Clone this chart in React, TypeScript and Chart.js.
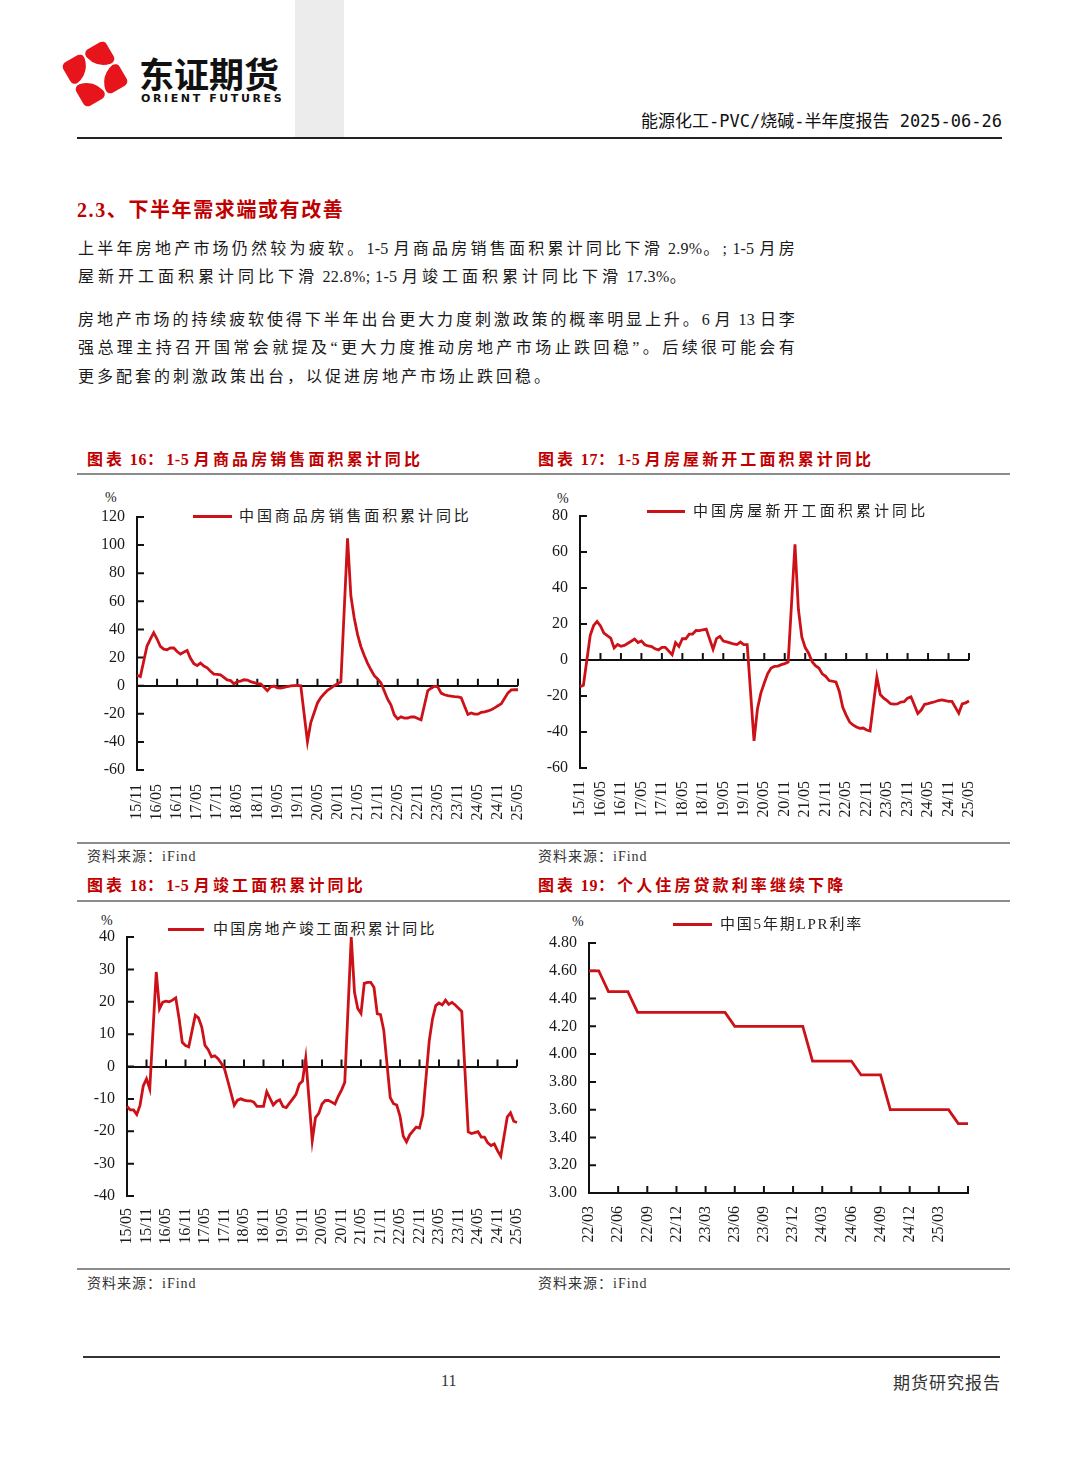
import React, { useEffect, useRef } from 'react';
import { Chart, registerables } from 'chart.js';

Chart.register(...registerables);

const LINE_RED = '#cc1218';
const TEXT_RED = '#c00000';
const TICK_FONT = '"Liberation Serif", "Times New Roman", serif';
const SERIF_CJK = '"Liberation Serif", "Noto Sans CJK SC", serif';
const SANS_CJK = '"Noto Sans CJK SC", sans-serif';

// ---------- Chart 16: 商品房销售面积累计同比 (monthly from 15/11, January has no release) ----------
const salesStart = '15/11';
const salesValues: (number | null)[] = [
  7.4, 6.5,
  null, 28.2, 33.1, 37.7, 33.2, 27.9, 26.0, 25.5, 26.9, 26.8, 24.3, 22.5,
  null, 25.1, 19.5, 15.7, 14.3, 16.1, 14.0, 12.7, 10.3, 8.2, 8.0, 7.7,
  null, 4.1, 3.6, 1.3, 2.9, 3.3, 4.2, 4.0, 2.9, 2.2, 1.4, 1.3,
  null, -3.6, -0.9, -0.3, -1.6, -1.8, -1.3, -0.6, -0.1, 0.1, 0.2, -0.1,
  null, -39.9, -26.3, -19.3, -12.3, -8.4, -5.8, -3.3, -1.8, 0.0, 1.3, 2.6,
  null, 104.9, 63.8, 48.1, 36.3, 27.7, 21.5, 15.9, 11.3, 7.1, 4.8, 1.9,
  null, -9.6, -13.8, -20.9, -23.6, -22.2, -23.1, -23.0, -22.2, -22.3, -23.3, -24.3,
  null, -3.6, -1.8, -0.4, -0.9, -5.3, -6.5, -7.1, -7.5, -7.8, -8.0, -8.5,
  null, -20.5, -19.4, -20.2, -20.3, -19.0, -18.6, -18.0, -17.1, -15.8, -14.3, -12.9,
  null, -5.1, -3.0, -2.8, -2.9,
];
const salesTicks = ['15/11', '16/05', '16/11', '17/05', '17/11', '18/05', '18/11', '19/05', '19/11', '20/05',
  '20/11', '21/05', '21/11', '22/05', '22/11', '23/05', '23/11', '24/05', '24/11', '25/05'];

// ---------- Chart 17: 房屋新开工面积累计同比 ----------
const startsStart = '15/11';
const startsValues: (number | null)[] = [
  -14.8, -14.0,
  null, 13.7, 19.2, 21.4, 18.9, 14.9, 13.5, 12.2, 6.7, 8.6, 7.6, 8.1,
  null, 10.4, 11.6, 9.7, 10.6, 8.5, 7.8, 7.5, 6.2, 5.6, 7.0, 7.0,
  null, 2.9, 9.7, 7.5, 11.8, 11.8, 14.4, 14.4, 16.4, 16.3, 16.8, 17.2,
  null, 6.0, 11.9, 13.1, 10.5, 10.1, 9.5, 8.9, 8.6, 10.0, 8.6, 8.5,
  null, -44.9, -27.2, -18.4, -12.8, -7.6, -4.5, -3.6, -3.4, -2.6, -2.0, -1.2,
  null, 64.3, 28.2, 12.8, 6.9, 3.8, -0.9, -3.2, -4.5, -7.7, -9.1, -11.4,
  null, -12.2, -17.5, -26.3, -30.6, -34.4, -36.1, -37.2, -38.0, -37.8, -38.9, -39.4,
  null, -9.4, -19.2, -21.2, -22.6, -24.3, -24.5, -24.4, -23.4, -23.2, -21.2, -20.4,
  null, -29.7, -27.8, -24.6, -24.2, -23.7, -23.2, -22.5, -22.2, -22.6, -23.0, -23.0,
  null, -29.6, -24.4, -23.8, -22.8,
];
const startsTicks = salesTicks;

// ---------- Chart 18: 房地产竣工面积累计同比 (from 15/05) ----------
const completionStart = '15/05';
const completionValues: (number | null)[] = [
  -12.3, -13.4, -13.4, -14.8, -12.0, -6.0, -3.8, -6.9,
  null, 29.2, 17.8, 19.9, 20.2, 20.0, 20.5, 21.2, 15.0, 7.5, 6.5, 6.1,
  null, 15.8, 15.0, 12.2, 6.5, 5.2, 3.0, 3.3, 2.4, 1.0, -0.7, -4.4,
  null, -12.0, -10.4, -10.0, -10.4, -10.6, -10.6, -11.0, -12.3, -12.3, -12.3, -7.8,
  null, -11.9, -10.8, -10.3, -12.4, -12.7, -11.3, -10.0, -8.6, -5.5, -4.5, 2.6,
  null, -22.9, -15.8, -14.5, -11.6, -10.5, -10.5, -11.0, -11.6, -9.2, -7.3, -4.9,
  null, 40.0, 22.9, 17.9, 16.4, 25.7, 26.0, 26.0, 24.4, 16.3, 16.0, 11.2,
  null, -9.6, -11.5, -11.9, -15.3, -21.5, -23.3, -21.1, -19.9, -18.7, -19.0, -15.0,
  null, 8.0, 14.7, 18.8, 19.6, 19.0, 20.5, 19.2, 19.8, 19.0, 18.0, 17.0,
  null, -20.2, -20.7, -20.4, -20.1, -21.8, -21.8, -23.6, -24.4, -23.9, -26.0, -27.7,
  null, -15.6, -14.3, -16.9, -17.3,
];
const completionTicks = ['15/05', '15/11', '16/05', '16/11', '17/05', '17/11', '18/05', '18/11', '19/05', '19/11',
  '20/05', '20/11', '21/05', '21/11', '22/05', '22/11', '23/05', '23/11', '24/05', '24/11', '25/05'];

// ---------- Chart 19: 5年期LPR (monthly from 22/03) ----------
const lprStart = '22/03';
const lprValues: number[] = [
  4.60, 4.60,
  4.45, 4.45, 4.45,
  4.30, 4.30, 4.30, 4.30, 4.30, 4.30, 4.30, 4.30, 4.30, 4.30,
  4.20, 4.20, 4.20, 4.20, 4.20, 4.20, 4.20, 4.20,
  3.95, 3.95, 3.95, 3.95, 3.95,
  3.85, 3.85, 3.85,
  3.60, 3.60, 3.60, 3.60, 3.60, 3.60, 3.60,
  3.50, 3.50,
];
const lprTicks = ['22/03', '22/06', '22/09', '22/12', '23/03', '23/06', '23/09', '23/12', '24/03', '24/06',
  '24/09', '24/12', '25/03'];

function monthSeries(start: string, count: number): string[] {
  let [yy, mm] = start.split('/').map(Number);
  const out: string[] = [];
  for (let i = 0; i < count; i++) {
    out.push(String(yy).padStart(2, '0') + '/' + String(mm).padStart(2, '0'));
    mm += 1;
    if (mm > 12) { mm = 1; yy += 1; }
  }
  return out;
}

const tickMarks = {
  id: 'tickMarks',
  beforeDatasetsDraw(chart: any, _args: any, opts: any) {
    const { ctx, chartArea, scales } = chart;
    const x = scales.x;
    const y = scales.y;
    const yb = y.getPixelForValue(opts.base);
    const len = opts.len || 7;
    ctx.save();
    ctx.strokeStyle = '#111';
    ctx.lineWidth = 2;
    ctx.beginPath();
    const n = chart.data.labels.length;
    for (let i = 0; i < n; i += opts.every) {
      const px = x.getPixelForValue(i);
      ctx.moveTo(px, yb);
      ctx.lineTo(px, yb - len);
    }
    y.ticks.forEach((t: any) => {
      const py = y.getPixelForValue(t.value);
      ctx.moveTo(chartArea.left, py);
      ctx.lineTo(chartArea.left + len, py);
    });
    ctx.stroke();
    ctx.restore();
  },
};

type ChartProps = {
  name: string;
  start: string;
  values: (number | null)[];
  tickLabels: string[];
  tickEvery: number;
  yMin: number;
  yMax: number;
  yStep: number;
  decimals: number;
  base: number;
  zeroLine: boolean;
  xBorder: boolean;
  left: number;
  top: number;
  width: number;
  height: number;
  yAxisWidth: number;
  xAxisHeight: number;
  padTop: number;
  padRight: number;
  xLabelPad: number;
};

function LineChart(p: ChartProps) {
  const ref = useRef<HTMLCanvasElement>(null);
  useEffect(() => {
    const labels = monthSeries(p.start, p.values.length);
    const chart = new Chart(ref.current as HTMLCanvasElement, {
      type: 'line',
      data: {
        labels,
        datasets: [{
          label: p.name,
          data: p.values,
          borderColor: LINE_RED,
          backgroundColor: LINE_RED,
          borderWidth: 2.8,
          pointRadius: 0,
          tension: 0,
          spanGaps: true,
          fill: false,
        }],
      },
      options: {
        responsive: false,
        animation: false,
        layout: { padding: { top: p.padTop, right: p.padRight, left: 0, bottom: 0 } },
        plugins: {
          legend: { display: false },
          tooltip: { enabled: false },
          tickMarks: { base: p.base, every: p.tickEvery, len: 7 },
        } as any,
        scales: {
          x: {
            type: 'category',
            offset: false,
            border: { display: p.xBorder, color: '#111', width: 2 },
            grid: { display: false, drawTicks: false },
            ticks: {
              autoSkip: false,
              minRotation: 90,
              maxRotation: 90,
              padding: p.xLabelPad,
              color: '#1a1a1a',
              font: { family: TICK_FONT, size: 16 },
              callback: (_v: any, i: number) => (p.tickLabels.includes(labels[i]) ? labels[i] : ''),
            },
            afterFit: (s: any) => {
              s.height = p.xAxisHeight;
              s.paddingLeft = 0;
              s.paddingRight = 0;
            },
          },
          y: {
            min: p.yMin,
            max: p.yMax,
            border: { display: true, color: '#111', width: 2 },
            grid: {
              display: p.zeroLine,
              drawTicks: false,
              lineWidth: 2,
              color: (c: any) => (c.tick && c.tick.value === 0 ? '#111' : 'rgba(0,0,0,0)'),
            },
            ticks: {
              stepSize: p.yStep,
              padding: 12,
              color: '#1a1a1a',
              font: { family: TICK_FONT, size: 16 },
              callback: (v: any) => Number(v).toFixed(p.decimals),
            },
            afterFit: (s: any) => { s.width = p.yAxisWidth; },
          },
        },
      } as any,
      plugins: [tickMarks as any],
    });
    return () => chart.destroy();
  }, []);
  return (
    <canvas
      ref={ref}
      width={p.width}
      height={p.height}
      style={{ position: 'absolute', left: p.left, top: p.top, width: p.width, height: p.height }}
    />
  );
}

// split text so Latin runs stay tight while CJK runs get letter spacing
function mixedRuns(text: string, cjkLs: number, latLs: number) {
  const parts = text.split(/([\x20-\x7e]+)/).filter((s) => s.length > 0);
  return parts.map((s, i) => (
    <span key={i} style={{ letterSpacing: /^[\x20-\x7e]+$/.test(s) ? latLs : cjkLs }}>{s}</span>
  ));
}

type TProps = {
  x: number; y: number; size: number; children: React.ReactNode;
  color?: string; weight?: number; family?: string; ls?: number; right?: boolean; width?: number; justify?: boolean; latLs?: number;
};
function T({ x, y, size, children, color = '#1a1a1a', weight = 400, family = SERIF_CJK, ls = 0, right = false, width, justify, latLs }: TProps) {
  const style: React.CSSProperties = {
    position: 'absolute',
    top: y - size / 2 - 1,
    fontSize: size,
    lineHeight: size + 2 + 'px',
    color,
    fontWeight: weight,
    fontFamily: family,
    letterSpacing: ls,
    whiteSpace: 'nowrap',
  };
  if (right) style.right = 1080 - x; else style.left = x;
  if (width) { style.width = width; }
  if (justify) { style.textAlign = 'justify'; (style as any).textAlignLast = 'justify'; }
  const content = latLs !== undefined && typeof children === 'string' ? mixedRuns(children, ls, latLs) : children;
  return <div style={style}>{content}</div>;
}

function HLine({ x1, x2, y, color = '#222', h = 1.5 }: { x1: number; x2: number; y: number; color?: string; h?: number }) {
  return <div style={{ position: 'absolute', left: x1, top: y - h / 2, width: x2 - x1, height: h, background: color }} />;
}

function Legend({ x1, x2, tx, y, text, ls }: { x1: number; x2: number; tx: number; y: number; text: string; ls: number }) {
  return (
    <>
      <HLine x1={x1} x2={x2} y={y} color={LINE_RED} h={3} />
      <T x={tx} y={y} size={15} ls={ls} color="#222">{text}</T>
    </>
  );
}

function Logo() {
  const pieces = [[-1, -1], [1, -1], [1, 1], [-1, 1]];
  const s = 24;
  const g = 1.0;
  return (
    <svg width={76} height={80} viewBox="-38 -40 76 80" style={{ position: 'absolute', left: 57, top: 34 }}>
      <g transform="rotate(-30)">
        {pieces.map(([sx, sy], i) => (
          <rect key={i} x={sx > 0 ? g : -g - s} y={sy > 0 ? g : -g - s} width={s} height={s} rx={5} fill="#e8141b" />
        ))}
        <path d="M0,-26 Q1.4,-1.4 26,0 Q1.4,1.4 0,26 Q-1.4,1.4 -26,0 Q-1.4,-1.4 0,-26Z" fill="#fff" />
      </g>
    </svg>
  );
}

export default function App() {
  return (
    <div style={{ position: 'absolute', left: 0, top: 0, width: 1080, height: 1466, background: '#fff', overflow: 'hidden' }}>
      {/* header */}
      <div style={{ position: 'absolute', left: 295, top: 0, width: 49, height: 137, background: '#ececec' }} />
      <Logo />
      <T x={139} y={72} size={35} weight={700} family={SANS_CJK} color="#111">东证期货</T>
      <T x={141} y={98.5} size={11} weight={700} family='"DejaVu Sans", sans-serif' ls={2.6} color="#111">ORIENT FUTURES</T>
      <T x={1002} y={121} size={17} right family={'"DejaVu Sans Mono", "Noto Sans CJK SC", monospace'} color="#111">能源化工-PVC/烧碱-半年度报告 2025-06-26</T>
      <HLine x1={77} x2={1002} y={138} color="#222" h={1.6} />

      {/* section */}
      <T x={77} y={210} size={20} weight={700} color={TEXT_RED} ls={1.6}>2.3、下半年需求端或有改善</T>
      <T x={78} y={249} size={16} width={719} justify ls={2.2} latLs={0.2}>上半年房地产市场仍然较为疲软。1-5 月商品房销售面积累计同比下滑 2.9%。; 1-5 月房</T>
      <T x={78} y={277} size={16} ls={4.0} latLs={0.4}>屋新开工面积累计同比下滑 22.8%; 1-5 月竣工面积累计同比下滑 17.3%。</T>
      <T x={78} y={320} size={16} width={719} justify ls={2.2} latLs={0.2}>房地产市场的持续疲软使得下半年出台更大力度刺激政策的概率明显上升。6 月 13 日李</T>
      <T x={78} y={348} size={16} width={719} justify ls={2.2} latLs={0.2}>强总理主持召开国常会就提及“更大力度推动房地产市场止跌回稳”。后续很可能会有</T>
      <T x={78} y={377} size={16} ls={3.0}>更多配套的刺激政策出台，以促进房地产市场止跌回稳。</T>

      {/* row 1 titles */}
      <T x={87} y={460} size={16} weight={700} color={TEXT_RED} ls={3.1} latLs={0.6}>图表 16：1-5 月商品房销售面积累计同比</T>
      <T x={538} y={460} size={16} weight={700} color={TEXT_RED} ls={3.1} latLs={0.6}>图表 17：1-5 月房屋新开工面积累计同比</T>
      <HLine x1={77} x2={1010} y={474} color="#8c8c8c" h={1.6} />

      {/* chart 16 */}
      <T x={105} y={498} size={14} color="#222">%</T>
      <Legend x1={193} x2={232} tx={239} y={516} text="中国商品房销售面积累计同比" ls={2.9} />
      <LineChart name="中国商品房销售面积累计同比" start={salesStart} values={salesValues} tickLabels={salesTicks} tickEvery={6}
        yMin={-60} yMax={120} yStep={20} decimals={0} base={0} zeroLine xBorder={false}
        left={70} top={490} width={470} height={345} yAxisWidth={67} xAxisHeight={65} padTop={27} padRight={22} xLabelPad={14} />

      {/* chart 17 */}
      <T x={557} y={499} size={14} color="#222">%</T>
      <Legend x1={647} x2={685} tx={693} y={511} text="中国房屋新开工面积累计同比" ls={3.1} />
      <LineChart name="中国房屋新开工面积累计同比" start={startsStart} values={startsValues} tickLabels={startsTicks} tickEvery={6}
        yMin={-60} yMax={80} yStep={20} decimals={0} base={0} zeroLine xBorder={false}
        left={515} top={490} width={475} height={345} yAxisWidth={65} xAxisHeight={67} padTop={26} padRight={21} xLabelPad={13} />

      {/* sources row 1 */}
      <HLine x1={77} x2={1010} y={843} color="#8c8c8c" h={1.6} />
      <T x={87} y={857} size={14} color="#333" ls={1}>资料来源：iFind</T>
      <T x={538} y={857} size={14} color="#333" ls={1}>资料来源：iFind</T>

      {/* row 2 titles */}
      <T x={87} y={886} size={16} weight={700} color={TEXT_RED} ls={3.1} latLs={0.6}>图表 18：1-5 月竣工面积累计同比</T>
      <T x={538} y={886} size={16} weight={700} color={TEXT_RED} ls={3.1} latLs={0.6}>图表 19：个人住房贷款利率继续下降</T>
      <HLine x1={77} x2={1010} y={901} color="#8c8c8c" h={1.6} />

      {/* chart 18 */}
      <T x={101} y={921} size={14} color="#222">%</T>
      <Legend x1={168} x2={204} tx={213} y={929} text="中国房地产竣工面积累计同比" ls={2.2} />
      <LineChart name="中国房地产竣工面积累计同比" start={completionStart} values={completionValues} tickLabels={completionTicks} tickEvery={6}
        yMin={-40} yMax={40} yStep={10} decimals={0} base={0} zeroLine xBorder={false}
        left={60} top={910} width={477} height={352} yAxisWidth={67} xAxisHeight={66} padTop={27} padRight={20} xLabelPad={12} />

      {/* chart 19 */}
      <T x={572} y={922} size={14} color="#222">%</T>
      <Legend x1={673} x2={712} tx={720} y={924} text="中国5年期LPR利率" ls={1.8} />
      <LineChart name="中国5年期LPR利率" start={lprStart} values={lprValues} tickLabels={lprTicks} tickEvery={3}
        yMin={3} yMax={4.8} yStep={0.2} decimals={2} base={3} zeroLine={false} xBorder
        left={520} top={915} width={468} height={345} yAxisWidth={69} xAxisHeight={67} padTop={28} padRight={20} xLabelPad={13} />

      {/* sources row 2 */}
      <HLine x1={77} x2={1010} y={1269} color="#8c8c8c" h={1.6} />
      <T x={87} y={1284} size={14} color="#333" ls={1}>资料来源：iFind</T>
      <T x={538} y={1284} size={14} color="#333" ls={1}>资料来源：iFind</T>

      {/* footer */}
      <HLine x1={83} x2={1000} y={1357} color="#333" h={1.6} />
      <T x={441} y={1381} size={16} color="#333">11</T>
      <T x={1001} y={1381} size={17} right family={SANS_CJK} color="#333" ls={1}>期货研究报告</T>
    </div>
  );
}
